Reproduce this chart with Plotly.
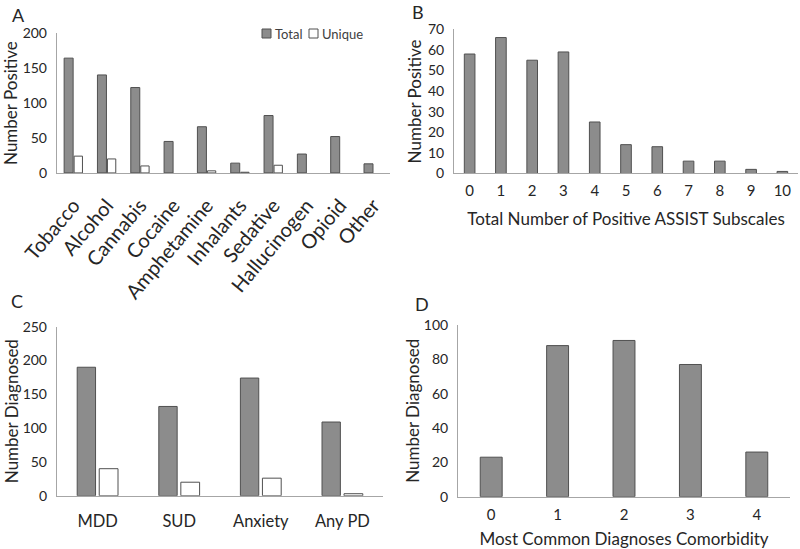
import plotly.graph_objects as go

# Panel A: ASSIST positive screens by substance
substances = ["Tobacco", "Alcohol", "Cannabis", "Cocaine", "Amphetamine",
              "Inhalants", "Sedative", "Hallucinogen", "Opioid", "Other"]
substance_total = [164, 140, 122, 45, 66, 14, 82, 27, 52, 13]
substance_unique = [24, 20, 10, 0, 3, 1, 11, 0, 0, 0]

# Panel B: number of positive ASSIST subscales
subscale_counts = ["0", "1", "2", "3", "4", "5", "6", "7", "8", "9", "10"]
subscale_n = [58, 66, 55, 59, 25, 14, 13, 6, 6, 2, 1]

# Panel C: diagnoses
diagnoses = ["MDD", "SUD", "Anxiety", "Any PD"]
diag_total = [190, 132, 174, 109]
diag_unique = [40, 20, 26, 3]

# Panel D: comorbidity count
comorb_counts = ["0", "1", "2", "3", "4"]
comorb_n = [23, 88, 91, 77, 26]

FONT = "Lato"
GRAY = "#8c8c8c"
EDGE = "#505050"
AXIS = "#a6a6a6"
TXT = "#262626"
W, H = 800, 549


def edge(vals):
    # no outline on empty bars, like the original
    return dict(color=EDGE, width=[1 if v > 0 else 0 for v in vals])


fig = go.Figure()

# A
fig.add_trace(go.Bar(x=substances, y=substance_total, name="Total",
                     marker=dict(color=GRAY, line=edge(substance_total)),
                     width=0.27, offset=-0.28, xaxis="x", yaxis="y"))
fig.add_trace(go.Bar(x=substances, y=substance_unique, name="Unique",
                     marker=dict(color="white", line=edge(substance_unique)),
                     width=0.25, offset=0.02, xaxis="x", yaxis="y"))
# B
fig.add_trace(go.Bar(x=subscale_counts, y=subscale_n,
                     marker=dict(color=GRAY, line=edge(subscale_n)),
                     width=0.34, xaxis="x2", yaxis="y2"))
# C
fig.add_trace(go.Bar(x=diagnoses, y=diag_total,
                     marker=dict(color=GRAY, line=edge(diag_total)),
                     width=0.225, offset=-0.25, xaxis="x3", yaxis="y3"))
fig.add_trace(go.Bar(x=diagnoses, y=diag_unique,
                     marker=dict(color="white", line=edge(diag_unique)),
                     width=0.23, offset=0.02, xaxis="x3", yaxis="y3"))
# D
fig.add_trace(go.Bar(x=comorb_counts, y=comorb_n,
                     marker=dict(color=GRAY, line=edge(comorb_n)),
                     width=0.33, xaxis="x4", yaxis="y4"))

xcommon = dict(type="category", showline=True, linecolor=AXIS, linewidth=1,
               ticks="", showgrid=False, zeroline=False, automargin=False,
               ticklabelstandoff=4,
               tickfont=dict(family=FONT, size=15, color=TXT),
               title_font=dict(family=FONT, size=17, color=TXT))
ycommon = dict(showline=True, linecolor=AXIS, linewidth=1, ticks="",
               showgrid=False, zeroline=False, automargin=False,
               ticklabelstandoff=6,
               tickfont=dict(family=FONT, size=14, color=TXT))

fig.update_layout(
    width=W, height=H,
    margin=dict(l=0, r=0, t=0, b=0),
    paper_bgcolor="white", plot_bgcolor="white",
    barmode="group",
    showlegend=False,
    xaxis=dict(xcommon, domain=[0.071, 0.4875], anchor="y", tickangle=-50,
               ticklabelstandoff=12,
               tickfont=dict(family=FONT, size=20, color=TXT)),
    yaxis=dict(ycommon, domain=[0.685, 0.94], anchor="x", range=[0, 200], dtick=50),
    xaxis2=dict(xcommon, domain=[0.5675, 0.9975], anchor="y2",
                title_text="Total Number of Positive ASSIST Subscales",
                title_standoff=14),
    yaxis2=dict(ycommon, domain=[0.684, 0.9466], anchor="x2", range=[0, 70], dtick=10),
    xaxis3=dict(xcommon, domain=[0.071, 0.479], anchor="y3",
                ticklabelstandoff=10,
                tickfont=dict(family=FONT, size=16.5, color=TXT)),
    yaxis3=dict(ycommon, domain=[0.097, 0.405], anchor="x3", range=[0, 250], dtick=50),
    xaxis4=dict(xcommon, domain=[0.5725, 0.9875], anchor="y4",
                title_text="Most Common Diagnoses Comorbidity", title_standoff=16),
    yaxis4=dict(ycommon, domain=[0.0953, 0.408], anchor="x4", range=[0, 100], dtick=20),
)

# y-axis titles placed by hand so they sit where the original has them
for text, px, dom in [("Number Positive", 11, (0.685, 0.94)),
                      ("Number Positive", 414, (0.684, 0.9466)),
                      ("Number Diagnosed", 11, (0.097, 0.405)),
                      ("Number Diagnosed", 413, (0.0953, 0.408))]:
    fig.add_annotation(text=text, textangle=-90, x=px / W, y=sum(dom) / 2,
                       xref="paper", yref="paper", xanchor="center", yanchor="middle",
                       showarrow=False, font=dict(family=FONT, size=17, color=TXT))

# hand-made legend for panel A (the plotly legend spaces entries too widely)
for x0, fill, label in [(262, GRAY, "Total"), (309, "white", "Unique")]:
    fig.add_shape(type="rect", xref="paper", yref="paper",
                  x0=x0 / W, x1=(x0 + 9) / W, y0=1 - 38 / H, y1=1 - 29 / H,
                  fillcolor=fill, line=dict(color=EDGE, width=1))
    fig.add_annotation(text=label, x=(x0 + 11) / W, y=1 - 33.5 / H,
                       xref="paper", yref="paper", xanchor="left", yanchor="middle",
                       showarrow=False, font=dict(family=FONT, size=13, color="#404040"))

for letter, px, py in [("A", 10, 15), ("B", 410, 12), ("C", 9, 301), ("D", 413, 304)]:
    fig.add_annotation(text=letter, x=px / W, y=1 - py / H, xref="paper", yref="paper",
                       xanchor="left", yanchor="middle", showarrow=False,
                       font=dict(family=FONT, size=18, color=TXT))

# drop the browser's default body margin so the figure fills the window exactly
fig.write_html("out.html", config={"displayModeBar": False},
               post_script="document.body.style.margin='0';")
